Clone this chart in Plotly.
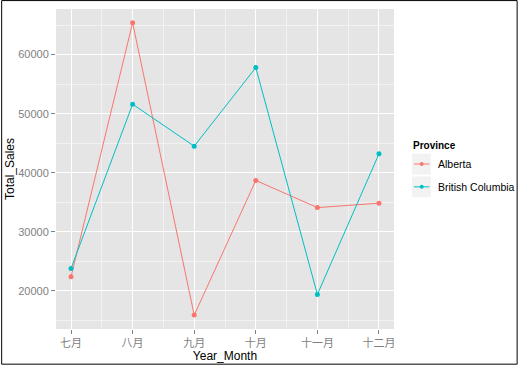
import plotly.graph_objects as go

months = ["七月", "八月", "九月", "十月", "十一月", "十二月"]
alberta = [22400, 65400, 15900, 38700, 34100, 34850]
british_columbia = [23800, 51600, 44500, 57800, 19400, 43200]
y_ticks = [20000, 30000, 40000, 50000, 60000]
series_names = ["Alberta", "British Columbia"]
series_colors = ["#F8766D", "#00BFC4"]

W, H = 518, 368
ML, MR, MT, MB = 55, 124, 9, 36
PW, PH = W - ML - MR, H - MT - MB

FONT = "Liberation Sans, Arial, Noto Sans CJK SC, sans-serif"
xs = list(range(len(months)))

fig = go.Figure()
for name, vals, col in zip(series_names, [alberta, british_columbia], series_colors):
    fig.add_trace(go.Scatter(x=xs, y=vals, name=name, mode="lines+markers",
                             line=dict(color=col, width=1),
                             marker=dict(color=col, size=5), showlegend=False))

def px2paper_x(p):
    return (p - ML) / PW

def px2paper_y(p):
    return (H - MB - p) / PH

shapes = [dict(type="rect", xref="paper", yref="paper",
               x0=px2paper_x(0.5), x1=px2paper_x(W - 0.5),
               y0=px2paper_y(H - 0.5), y1=px2paper_y(0.5),
               line=dict(color="black", width=1), fillcolor="rgba(0,0,0,0)", layer="below")]
annotations = [dict(text="<b>Province</b>", xref="paper", yref="paper",
                    x=px2paper_x(411), y=px2paper_y(147), xanchor="left", yanchor="middle",
                    showarrow=False, font=dict(size=10, color="black"))]

# manual legend
key_tops = [155, 178]
for name, col, top in zip(series_names, series_colors, key_tops):
    shapes.append(dict(type="rect", xref="paper", yref="paper",
                       x0=px2paper_x(412), x1=px2paper_x(431),
                       y0=px2paper_y(top + 21), y1=px2paper_y(top),
                       line=dict(width=0), fillcolor="#F2F2F2", layer="below"))
    cy = top + 10.5
    shapes.append(dict(type="line", xref="paper", yref="paper",
                       x0=px2paper_x(414), x1=px2paper_x(429.5),
                       y0=px2paper_y(cy), y1=px2paper_y(cy),
                       line=dict(color=col, width=1)))
    shapes.append(dict(type="circle", xref="paper", yref="paper",
                       x0=px2paper_x(419.8), x1=px2paper_x(423.8),
                       y0=px2paper_y(cy + 2), y1=px2paper_y(cy - 2),
                       line=dict(width=0), fillcolor=col))
    annotations.append(dict(text=name, xref="paper", yref="paper",
                            x=px2paper_x(436), y=px2paper_y(cy), xanchor="left",
                            yanchor="middle", showarrow=False,
                            font=dict(size=10.5, color="black")))

fig.update_layout(
    width=W, height=H,
    margin=dict(l=ML, r=MR, t=MT, b=MB, pad=0),
    paper_bgcolor="white", plot_bgcolor="#E5E5E5",
    font=dict(family=FONT, size=11, color="black"),
    showlegend=False,
    shapes=shapes, annotations=annotations,
    xaxis=dict(range=[-0.244, len(months) - 1 + 0.244], tickmode="array",
               tickvals=xs, ticktext=months, showgrid=True, gridcolor="white",
               gridwidth=1, zeroline=False, ticks="outside", ticklen=4,
               tickcolor="#7F7F7F", tickfont=dict(size=11, color="#7F7F7F"),
               title=dict(text="Year_Month", font=dict(size=12), standoff=1),
               minor=dict(tick0=0.5, dtick=1, showgrid=True, gridcolor="#F2F2F2",
                          gridwidth=1, ticks="")),
    yaxis=dict(range=[13550, 67720], tickmode="array", tickvals=y_ticks,
               tickformat="d",
               showgrid=True, gridcolor="white", gridwidth=1, zeroline=False,
               ticks="outside", ticklen=4, tickcolor="#7F7F7F",
               tickfont=dict(size=11, color="#7F7F7F"),
               title=dict(text="Total_Sales", font=dict(size=12), standoff=1),
               minor=dict(tick0=15000, dtick=10000, showgrid=True,
                          gridcolor="#F2F2F2", gridwidth=1, ticks="")),
)

fig.write_html("out.html", config={"displayModeBar": False},
               post_script="document.body.style.margin='0';document.body.style.padding='0';")
